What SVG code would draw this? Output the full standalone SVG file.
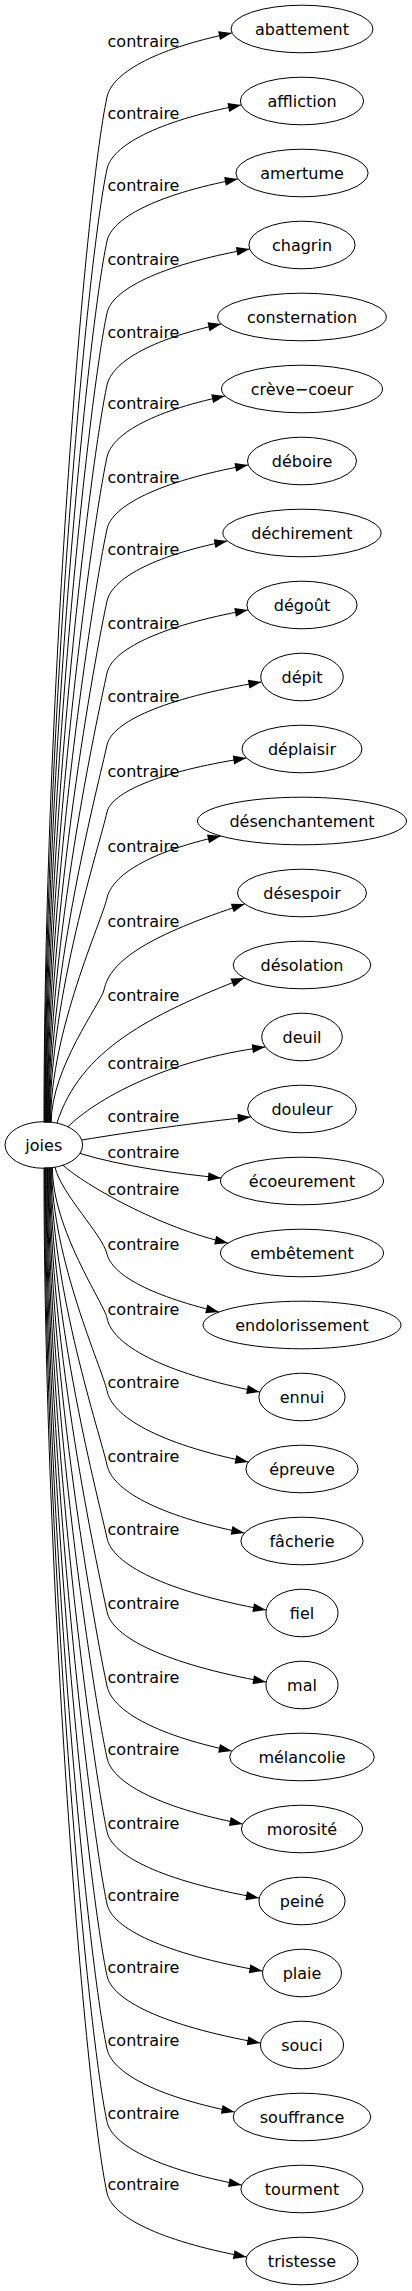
<svg xmlns="http://www.w3.org/2000/svg" width="412" height="2291" viewBox="0 0 412 2291">
<style>
text{font-family:"DejaVu Sans",sans-serif;font-size:16px;fill:#000}
.n text{text-anchor:middle}
.n ellipse{fill:none;stroke:#000;stroke-width:1}
#edges path{fill:none;stroke:#000;stroke-width:1;marker-end:url(#ah)}
#labels text{text-anchor:middle}
</style>
<defs>
<marker id="ah" markerUnits="userSpaceOnUse" markerWidth="13" markerHeight="9" viewBox="0 0 13 9" refX="13" refY="4.5" orient="auto" overflow="visible"><path d="M0,0L13,4.5L0,9z" fill="#000"/></marker>
</defs>
<rect width="412" height="2291" fill="#fff"/>
<g id="edges">
<path d="M44,1122.5C44,702 85,199.6 107,97C112,74 151.9,49.6 231.8,33"/>
<path d="M44.6,1122.5C44.6,731.6 86.5,264.4 107,169C112,146 155.3,121.6 241.1,105"/>
<path d="M45.2,1122.5C45.2,761.1 88,329.2 107,241C112,218.7 154.1,195.1 237.8,179"/>
<path d="M45.8,1122.5C45.8,790.6 89.6,394 107,313C112,290 158.3,265.6 249.5,249"/>
<path d="M46.4,1122.5C46.4,820.1 91.1,458.8 107,385C112,363 148.1,339.9 221.2,324"/>
<path d="M47,1122.5C47,849.6 92.7,523.6 107,457C112,435 149.4,411.9 224.9,396"/>
<path d="M47.6,1122.5C47.6,879.2 94.2,588.4 107,529C112,506 157.8,481.6 248.1,465"/>
<path d="M48.2,1122.5C48.2,908.7 95.8,653.2 107,601C112,579.4 150.3,556.6 227.3,541"/>
<path d="M48.8,1122.5C48.8,938.2 97.3,718 107,673C112,650.3 157.7,626.4 247.9,610"/>
<path d="M49.4,1122.5C49.4,967.7 98.9,782.8 107,745C112,722.3 162.6,698.4 261.4,682"/>
<path d="M50,1122.5C50,995.2 100.3,843 107,812C112,792.6 157.1,772 246.3,758"/>
<path d="M50.6,1122.5C50.6,1030.5 102.2,920.5 107,898C112,875.7 147.9,852.1 220.7,836"/>
<path d="M51.2,1122.5C51.2,1068 101,1003 104,990C110,960 150,935 244.6,904"/>
<path d="M57,1123.1C80,1050 150,1015 244.2,978"/>
<path d="M68,1126.7C95,1100 165,1060 265.2,1047"/>
<path d="M82,1140C130,1132 200,1122 250.7,1117"/>
<path d="M80,1153.4C120,1166 180,1174 221,1178"/>
<path d="M63,1165.2C85,1185 160,1228 227.9,1243"/>
<path d="M55,1167.3C62,1195 102,1234 107,1254C112,1273.7 146.2,1294.6 218.9,1312"/>
<path d="M52.4,1167.5C52.4,1229.2 103.8,1303 107,1318C112,1344.6 162,1372.8 259.7,1392"/>
<path d="M51.7,1167.5C51.7,1259 102.2,1368.4 107,1390.7C112,1416.4 157.8,1443.5 248.2,1462"/>
<path d="M51,1167.5C51,1289.5 100.6,1435.3 107,1465C112,1489.5 156.4,1515.3 244.3,1533"/>
<path d="M50.3,1167.5C50.3,1319.4 99,1501 107,1538C112,1563.9 164.2,1591.3 266,1610"/>
<path d="M49.6,1167.5C49.6,1349.6 97.4,1567.3 107,1611.7C112,1637 164.2,1663.7 266,1682"/>
<path d="M48.9,1167.5C48.9,1380.1 95.9,1634.2 107,1686C112,1709.4 151.9,1734.1 231.8,1751"/>
<path d="M48.2,1167.5C48.2,1409.6 94.3,1699 107,1758C112,1781.8 155.8,1806.8 242.6,1824"/>
<path d="M47.5,1167.5C47.5,1439.8 92.7,1765.3 107,1831.7C112,1855.6 161.7,1880.8 259,1898"/>
<path d="M46.8,1167.5C46.8,1469.5 91.2,1830.4 107,1904C112,1928.1 162.9,1953.6 262.4,1971"/>
<path d="M46.1,1167.5C46.1,1498.9 89.6,1894.9 107,1975.7C112,1999.9 162.2,2025.5 260.3,2043"/>
<path d="M45.4,1167.5C45.4,1528.9 88,1960.9 107,2049C112,2071.7 152.9,2095.6 234.5,2112"/>
<path d="M44.7,1167.5C44.7,1558.7 86.5,2026.3 107,2121.7C112,2144.5 155.5,2168.5 241.6,2185"/>
<path d="M44,1167.5C44,1588 85,2090.5 107,2193C112,2216 157.2,2240.4 246.5,2257"/>
</g>
<g id="labels">
<text x="143.5" y="46.7">contraire</text>
<text x="143.5" y="118.7">contraire</text>
<text x="143.5" y="190.5">contraire</text>
<text x="143.5" y="265.3">contraire</text>
<text x="143.5" y="337.7">contraire</text>
<text x="143.5" y="408.7">contraire</text>
<text x="143.5" y="482.7">contraire</text>
<text x="143.5" y="555.3">contraire</text>
<text x="143.5" y="628.7">contraire</text>
<text x="143.5" y="702">contraire</text>
<text x="143.5" y="777">contraire</text>
<text x="143.5" y="851.7">contraire</text>
<text x="143.5" y="926.7">contraire</text>
<text x="143.5" y="1001">contraire</text>
<text x="143.5" y="1069.3">contraire</text>
<text x="143.5" y="1122">contraire</text>
<text x="143.5" y="1157.7">contraire</text>
<text x="143.5" y="1195.3">contraire</text>
<text x="143.5" y="1250">contraire</text>
<text x="143.5" y="1315">contraire</text>
<text x="143.5" y="1387.7">contraire</text>
<text x="143.5" y="1462">contraire</text>
<text x="143.5" y="1535">contraire</text>
<text x="143.5" y="1608.7">contraire</text>
<text x="143.5" y="1683">contraire</text>
<text x="143.5" y="1755">contraire</text>
<text x="143.5" y="1828.7">contraire</text>
<text x="143.5" y="1901">contraire</text>
<text x="143.5" y="1972.7">contraire</text>
<text x="143.5" y="2046">contraire</text>
<text x="143.5" y="2118.7">contraire</text>
<text x="143.5" y="2190">contraire</text>
</g>
<g id="joies" class="n"><ellipse cx="43.8" cy="1145" rx="38.8" ry="23.3"/><text x="43.8" y="1150.5">joies</text></g>
<g id="abattement" class="n"><ellipse cx="302" cy="29" rx="71" ry="23.8"/><text x="302" y="35">abattement</text></g>
<g id="affliction" class="n"><ellipse cx="302" cy="101" rx="61.6" ry="23.8"/><text x="302" y="107">affliction</text></g>
<g id="amertume" class="n"><ellipse cx="302" cy="173" rx="66.1" ry="23.8"/><text x="302" y="179">amertume</text></g>
<g id="chagrin" class="n"><ellipse cx="302" cy="245" rx="53.1" ry="23.8"/><text x="302" y="251">chagrin</text></g>
<g id="consternation" class="n"><ellipse cx="302" cy="317" rx="84.3" ry="23.8"/><text x="302" y="323">consternation</text></g>
<g id="creve-coeur" class="n"><ellipse cx="302" cy="389" rx="80.5" ry="23.8"/><text x="302" y="395">crève−coeur</text></g>
<g id="deboire" class="n"><ellipse cx="302" cy="461" rx="54.5" ry="23.8"/><text x="302" y="467">déboire</text></g>
<g id="dechirement" class="n"><ellipse cx="302" cy="533" rx="79.1" ry="23.8"/><text x="302" y="539">déchirement</text></g>
<g id="degout" class="n"><ellipse cx="302" cy="605" rx="55.1" ry="23.8"/><text x="302" y="611">dégoût</text></g>
<g id="depit" class="n"><ellipse cx="302" cy="677" rx="41.3" ry="23.8"/><text x="302" y="683">dépit</text></g>
<g id="deplaisir" class="n"><ellipse cx="302" cy="749" rx="60" ry="23.8"/><text x="302" y="755">déplaisir</text></g>
<g id="desenchantement" class="n"><ellipse cx="302" cy="821" rx="104.5" ry="23.8"/><text x="302" y="827">désenchantement</text></g>
<g id="desespoir" class="n"><ellipse cx="302" cy="893" rx="64.5" ry="23.8"/><text x="302" y="899">désespoir</text></g>
<g id="desolation" class="n"><ellipse cx="302" cy="965" rx="68.8" ry="23.8"/><text x="302" y="971">désolation</text></g>
<g id="deuil" class="n"><ellipse cx="302" cy="1037" rx="40.3" ry="23.8"/><text x="302" y="1043">deuil</text></g>
<g id="douleur" class="n"><ellipse cx="302" cy="1109" rx="54.3" ry="23.8"/><text x="302" y="1115">douleur</text></g>
<g id="ecoeurement" class="n"><ellipse cx="302" cy="1181" rx="81.5" ry="23.8"/><text x="302" y="1187">écoeurement</text></g>
<g id="embetement" class="n"><ellipse cx="302" cy="1253" rx="81.5" ry="23.8"/><text x="302" y="1259">embêtement</text></g>
<g id="endolorissement" class="n"><ellipse cx="302" cy="1325" rx="99" ry="23.8"/><text x="302" y="1331">endolorissement</text></g>
<g id="ennui" class="n"><ellipse cx="302" cy="1397" rx="43.1" ry="23.8"/><text x="302" y="1403">ennui</text></g>
<g id="epreuve" class="n"><ellipse cx="302" cy="1469" rx="56.1" ry="23.8"/><text x="302" y="1475">épreuve</text></g>
<g id="facherie" class="n"><ellipse cx="302" cy="1541" rx="61.1" ry="23.8"/><text x="302" y="1547">fâcherie</text></g>
<g id="fiel" class="n"><ellipse cx="302" cy="1613" rx="36.1" ry="23.8"/><text x="302" y="1619">fiel</text></g>
<g id="mal" class="n"><ellipse cx="302" cy="1685" rx="36.1" ry="23.8"/><text x="302" y="1691">mal</text></g>
<g id="melancolie" class="n"><ellipse cx="302" cy="1757" rx="72.3" ry="23.8"/><text x="302" y="1763">mélancolie</text></g>
<g id="morosite" class="n"><ellipse cx="302" cy="1829" rx="60.6" ry="23.8"/><text x="302" y="1835">morosité</text></g>
<g id="peine" class="n"><ellipse cx="302" cy="1901" rx="43.1" ry="23.8"/><text x="302" y="1907">peiné</text></g>
<g id="plaie" class="n"><ellipse cx="302" cy="1973" rx="39.5" ry="23.8"/><text x="302" y="1979">plaie</text></g>
<g id="souci" class="n"><ellipse cx="302" cy="2045" rx="41.6" ry="23.8"/><text x="302" y="2051">souci</text></g>
<g id="souffrance" class="n"><ellipse cx="302" cy="2117" rx="68.8" ry="23.8"/><text x="302" y="2123">souffrance</text></g>
<g id="tourment" class="n"><ellipse cx="302" cy="2189" rx="61.1" ry="23.8"/><text x="302" y="2195">tourment</text></g>
<g id="tristesse" class="n"><ellipse cx="302" cy="2261" rx="56.1" ry="23.8"/><text x="302" y="2267">tristesse</text></g>
</svg>
